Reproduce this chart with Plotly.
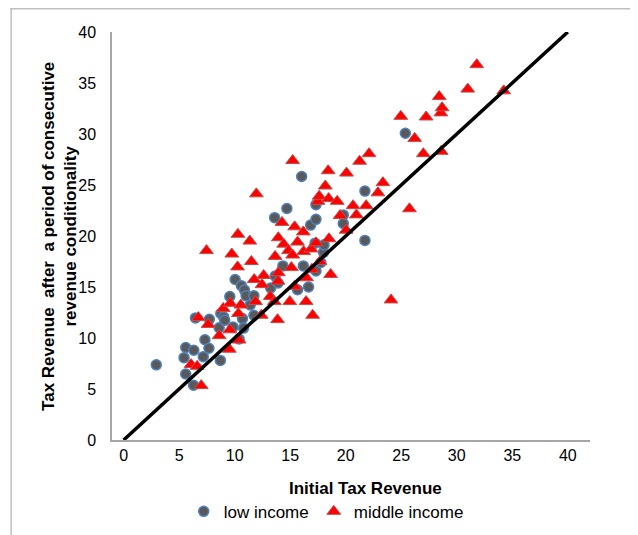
import plotly.graph_objects as go

low_x = [2.94, 5.44, 5.59, 5.59, 6.29, 6.32, 6.47, 7.17, 7.32, 7.68, 7.72, 8.71, 8.6, 8.75, 9.0, 9.1,
         9.56, 9.85, 10.04, 10.4, 10.6, 10.7, 10.8, 10.88, 11.03, 11.4, 11.73, 11.73, 13.24, 13.6,
         13.64, 13.9, 14.34, 14.7, 15.66, 16.03, 16.18, 16.65, 16.84, 17.32, 17.32, 17.24, 17.32,
         17.76, 18.0, 18.05, 19.78, 19.78, 21.73, 21.73, 25.37]
low_y = [7.37, 8.07, 9.07, 6.47, 5.37, 8.8, 11.97, 8.17, 9.83, 9.0, 11.83, 7.8, 11.0, 12.4, 12.07, 11.73,
         14.07, 11.07, 15.73, 9.9, 15.13, 11.9, 10.97, 14.7, 14.13, 13.23, 14.13, 12.23, 14.9, 21.8,
         16.07, 15.4, 17.07, 22.7, 14.73, 25.83, 17.07, 15.0, 21.07, 21.63, 23.07, 19.3, 16.57,
         17.4, 18.4, 19.13, 22.07, 21.23, 24.4, 19.57, 30.07]

mid_x = [6.73, 6.07, 6.62, 6.99, 7.46, 7.61, 8.6, 8.97, 9.52, 9.56, 9.6, 9.74, 10.29, 10.26, 10.33, 10.4,
         10.55, 11.36, 11.5, 11.76, 11.95, 11.88, 12.39, 12.46, 12.61, 13.2, 13.57, 13.64, 13.86, 13.93,
         13.93, 13.9, 14.26, 14.41, 14.85, 14.96, 15.11, 15.22, 15.22, 15.4, 15.4, 15.66, 16.18, 16.21,
         16.43, 16.47, 16.88, 16.95, 17.02, 17.32, 17.5, 17.61, 17.68, 18.16, 18.42, 18.46, 18.49, 18.64,
         19.23, 19.49, 20.04, 20.07, 20.66, 20.96, 21.25, 21.84, 22.1, 22.9, 23.35, 24.08, 24.96, 25.74,
         26.21, 26.99, 27.24, 28.42, 28.57, 28.68, 28.6, 30.99, 31.8, 34.23]
mid_y = [12.0, 7.4, 7.23, 5.33, 18.57, 11.33, 10.23, 12.9, 8.9, 10.8, 13.4, 18.23, 20.17, 16.97, 12.4, 9.8,
         13.23, 19.5, 17.5, 15.73, 24.13, 13.57, 12.23, 15.23, 16.13, 14.07, 13.57, 18.0, 11.8, 19.83,
         16.4, 15.57, 21.33, 19.2, 18.57, 13.57, 16.9, 27.4, 18.13, 20.9, 15.07, 19.4, 20.4, 18.47,
         13.57, 15.9, 18.73, 16.73, 12.23, 19.33, 23.4, 23.9, 17.5, 24.9, 26.4, 23.67, 19.73, 16.23,
         23.4, 22.0, 20.57, 26.17, 22.97, 22.07, 27.33, 22.97, 28.07, 24.23, 25.23, 13.73, 31.73, 22.67,
         29.57, 28.07, 31.67, 33.67, 32.07, 32.57, 28.3, 34.4, 36.8, 34.23]

line_x = [0, 40]
line_y = [0, 40]

x_ticks = [0, 5, 10, 15, 20, 25, 30, 35, 40]
y_ticks = [0, 5, 10, 15, 20, 25, 30, 35, 40]

FONT = "Liberation Sans, Arial, sans-serif"

fig = go.Figure()
fig.add_trace(go.Scatter(
    x=low_x, y=low_y, mode="markers", name="low income",
    marker=dict(symbol="circle", size=10, color="#595959",
                line=dict(color="#4F81BD", width=1.5)),
))
fig.add_trace(go.Scatter(
    x=mid_x, y=mid_y, mode="markers", name="middle income",
    marker=dict(symbol="triangle-up", size=12, color="#FF0000",
                line=dict(color="#C0504D", width=1)),
))
fig.add_trace(go.Scatter(
    x=line_x, y=line_y, mode="lines", showlegend=False,
    line=dict(color="black", width=3.5),
))

# page body has an 8px default margin, so the figure is 8px smaller and margins compensate
fig.update_layout(
    width=630, height=527,
    margin=dict(l=104, r=48, t=24, b=95, autoexpand=False),
    paper_bgcolor="white", plot_bgcolor="white",
    font=dict(family=FONT, size=16, color="#000000"),
    xaxis=dict(range=[-1.05, 42], tickvals=x_ticks, showgrid=False, zeroline=False,
               showline=True, linecolor="#A6A6A6", linewidth=1.5, ticks="",
               tickfont=dict(size=16, color="#000000"), ticklabelstandoff=0),
    yaxis=dict(range=[0, 40], tickvals=y_ticks, showgrid=False, zeroline=False,
               showline=True, linecolor="#A6A6A6", linewidth=1.5, ticks="",
               tickfont=dict(size=16, color="#000000"), ticklabelstandoff=11),
    legend=dict(orientation="h", x=0.15, xanchor="left", y=-0.176, yanchor="middle",
                font=dict(size=17), itemwidth=30, tracegroupgap=0,
                bgcolor="rgba(0,0,0,0)"),
    showlegend=True,
    annotations=[
        dict(text="<b>Initial Tax Revenue</b>", xref="paper", yref="paper",
             x=0.531, y=-0.118, xanchor="center", yanchor="middle",
             showarrow=False, font=dict(size=17)),
        dict(text="<b>Tax Revenue  after  a period of consecutive<br>revenue conditionality</b>",
             xref="paper", yref="paper", x=-0.111, y=0.50, xanchor="center", yanchor="middle",
             textangle=-90, showarrow=False, font=dict(size=17)),
    ],
    shapes=[
        dict(type="line", xref="paper", yref="paper", x0=-0.213, x1=1.2, y0=1.057, y1=1.057,
             line=dict(color="#BFBFBF", width=1.5)),
        dict(type="line", xref="paper", yref="paper", x0=-0.211, x1=-0.211, y0=1.059, y1=-0.3,
             line=dict(color="#BFBFBF", width=1.5)),
    ],
)

fig.write_html("out.html")
